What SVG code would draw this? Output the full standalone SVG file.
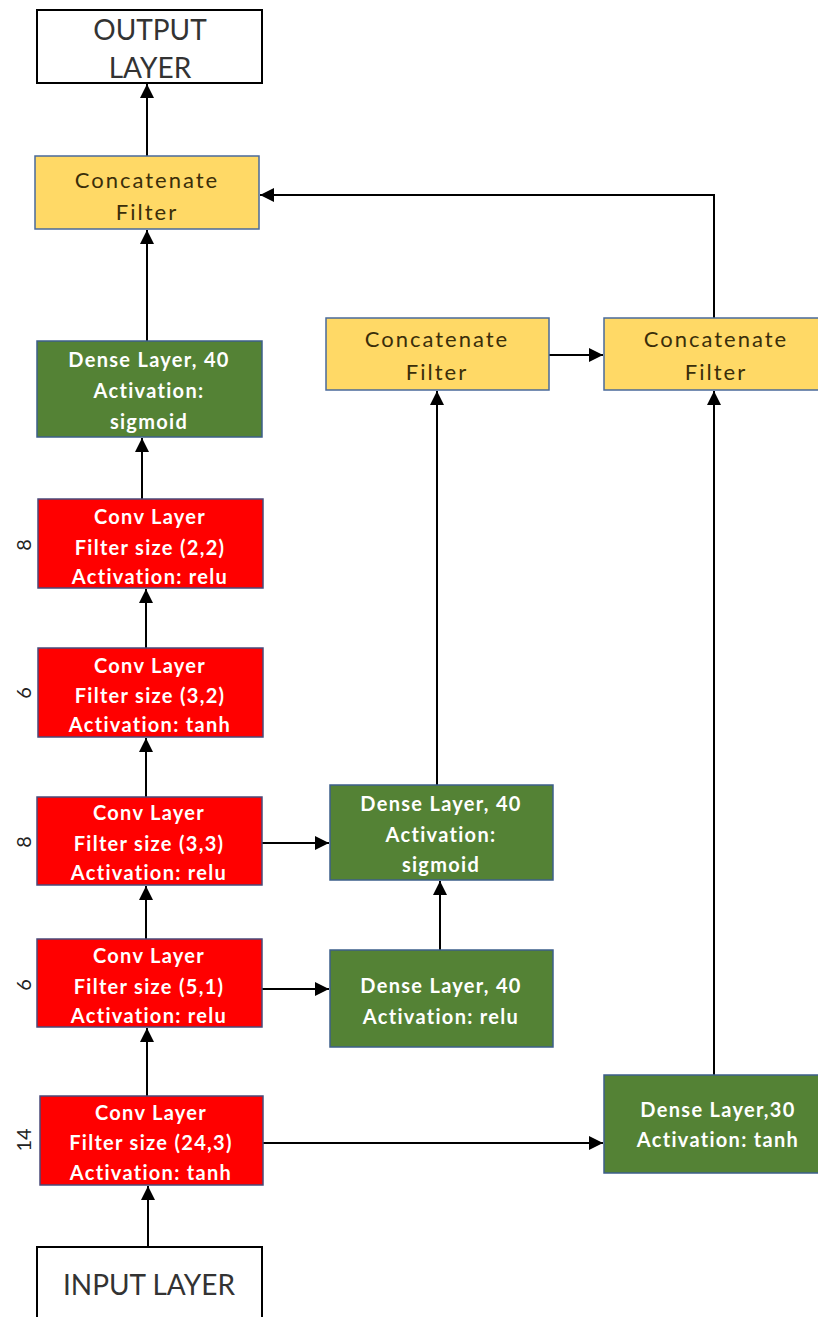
<svg xmlns="http://www.w3.org/2000/svg" width="818" height="1317" viewBox="0 0 818 1317">
  <style>
    .io { fill: #ffffff; stroke: #000000; stroke-width: 2; }
    .conv { fill: #ff0000; stroke: #4a4a7a; stroke-width: 1.5; }
    .dense { fill: #548235; stroke: #3d5f8a; stroke-width: 1.5; }
    .cat { fill: #ffd966; stroke: #4a6a9a; stroke-width: 1.5; }
    .t-io { font-family: Lato, "Liberation Sans", sans-serif; font-size: 28px; fill: #333333; text-anchor: middle; }
    .t-w { font-family: Lato, "Liberation Sans", sans-serif; font-size: 20px; font-weight: bold; fill: #ffffff; text-anchor: middle; letter-spacing: 1.3px; }
    .t-cat { font-family: Lato, "Liberation Sans", sans-serif; font-size: 22px; fill: #3a2e0a; text-anchor: middle; letter-spacing: 2px; }
    .t-side { font-family: Lato, "Liberation Sans", sans-serif; font-size: 20px; fill: #222222; text-anchor: middle; }
    .edge { fill: none; stroke: #000000; stroke-width: 2; marker-end: url(#arrow); }
  </style>
  <defs>
    <marker id="arrow" viewBox="0 0 10 10" refX="10" refY="5" markerWidth="7" markerHeight="7" markerUnits="strokeWidth" orient="auto">
      <path d="M0,0 L10,5 L0,10 z" fill="#000000"/>
    </marker>
  </defs>

  <rect width="818" height="1317" fill="#ffffff"/>

  <g id="connectors">
    <line class="edge" x1="147" y1="156" x2="147" y2="84"/>
    <line class="edge" x1="147" y1="341" x2="147" y2="230" stroke-width="3"/>
    <line class="edge" x1="142" y1="499" x2="142" y2="438"/>
    <line class="edge" x1="146" y1="648" x2="146" y2="589"/>
    <line class="edge" x1="146" y1="797" x2="146" y2="738"/>
    <line class="edge" x1="146" y1="939" x2="146" y2="886"/>
    <line class="edge" x1="147" y1="1096" x2="147" y2="1028"/>
    <line class="edge" x1="148" y1="1247" x2="148" y2="1186"/>
    <line class="edge" x1="262" y1="843" x2="329" y2="843"/>
    <line class="edge" x1="262" y1="989" x2="329" y2="989"/>
    <line class="edge" x1="263" y1="1143" x2="603" y2="1143"/>
    <line class="edge" x1="440" y1="950" x2="440" y2="881"/>
    <line class="edge" x1="437" y1="785" x2="437" y2="391"/>
    <line class="edge" x1="549" y1="355" x2="603" y2="355"/>
    <line class="edge" x1="714" y1="1075" x2="714" y2="391"/>
    <path class="edge" d="M714,318 L714,195 L260,195" stroke="#666666"/>
  </g>

  <g id="output-layer">
    <rect class="io" x="37" y="10" width="225" height="73"/>
    <text class="t-io" x="150" y="40">OUTPUT</text>
    <text class="t-io" x="150" y="78">LAYER</text>
  </g>

  <g id="concat-main">
    <rect class="cat" x="35" y="156" width="224" height="73"/>
    <text class="t-cat" x="147" y="188">Concatenate</text>
    <text class="t-cat" x="147" y="220">Filter</text>
  </g>

  <g id="dense-sigmoid-main">
    <rect class="dense" x="37" y="341" width="225" height="96"/>
    <text class="t-w" x="149" y="367">Dense Layer, 40</text>
    <text class="t-w" x="149" y="398">Activation:</text>
    <text class="t-w" x="149" y="429">sigmoid</text>
  </g>

  <g id="conv-2-2">
    <rect class="conv" x="38" y="499" width="225" height="89"/>
    <text class="t-w" x="150" y="524">Conv Layer</text>
    <text class="t-w" x="150" y="555">Filter size (2,2)</text>
    <text class="t-w" x="150" y="584">Activation: relu</text>
    <text class="t-side" transform="translate(31,545) rotate(-90)">8</text>
  </g>

  <g id="conv-3-2">
    <rect class="conv" x="38" y="648" width="225" height="89"/>
    <text class="t-w" x="150" y="673">Conv Layer</text>
    <text class="t-w" x="150" y="703">Filter size (3,2)</text>
    <text class="t-w" x="150" y="732">Activation: tanh</text>
    <text class="t-side" transform="translate(31,693) rotate(-90)">6</text>
  </g>

  <g id="conv-3-3">
    <rect class="conv" x="37" y="797" width="225" height="88"/>
    <text class="t-w" x="149" y="820">Conv Layer</text>
    <text class="t-w" x="149" y="851">Filter size (3,3)</text>
    <text class="t-w" x="149" y="880">Activation: relu</text>
    <text class="t-side" transform="translate(31,842) rotate(-90)">8</text>
  </g>

  <g id="conv-5-1">
    <rect class="conv" x="37" y="939" width="225" height="88"/>
    <text class="t-w" x="149" y="963">Conv Layer</text>
    <text class="t-w" x="149" y="994">Filter size (5,1)</text>
    <text class="t-w" x="149" y="1023">Activation: relu</text>
    <text class="t-side" transform="translate(31,985) rotate(-90)">6</text>
  </g>

  <g id="conv-24-3">
    <rect class="conv" x="40" y="1096" width="223" height="89"/>
    <text class="t-w" x="151" y="1120" letter-spacing="0.3">Conv Layer</text>
    <text class="t-w" x="151" y="1150" letter-spacing="0.3">Filter size (24,3)</text>
    <text class="t-w" x="151" y="1180">Activation: tanh</text>
    <text class="t-side" transform="translate(31,1140) rotate(-90)">14</text>
  </g>

  <g id="input-layer">
    <rect class="io" x="37" y="1247" width="225" height="80"/>
    <text class="t-io" x="149" y="1295">INPUT LAYER</text>
  </g>

  <g id="dense-sigmoid-mid">
    <rect class="dense" x="330" y="785" width="223" height="95"/>
    <text class="t-w" x="441" y="811">Dense Layer, 40</text>
    <text class="t-w" x="441" y="842">Activation:</text>
    <text class="t-w" x="441" y="872">sigmoid</text>
  </g>

  <g id="dense-relu">
    <rect class="dense" x="330" y="950" width="223" height="97"/>
    <text class="t-w" x="441" y="993">Dense Layer, 40</text>
    <text class="t-w" x="441" y="1024">Activation: relu</text>
  </g>

  <g id="concat-mid">
    <rect class="cat" x="326" y="318" width="223" height="72"/>
    <text class="t-cat" x="437" y="347">Concatenate</text>
    <text class="t-cat" x="437" y="380">Filter</text>
  </g>

  <g id="concat-right">
    <rect class="cat" x="604" y="318" width="224" height="72"/>
    <text class="t-cat" x="716" y="347">Concatenate</text>
    <text class="t-cat" x="716" y="380">Filter</text>
  </g>

  <g id="dense-30">
    <rect class="dense" x="604" y="1075" width="224" height="98"/>
    <text class="t-w" x="718" y="1117" letter-spacing="0.3">Dense Layer,30</text>
    <text class="t-w" x="718" y="1147" letter-spacing="0.3">Activation: tanh</text>
  </g>
</svg>
